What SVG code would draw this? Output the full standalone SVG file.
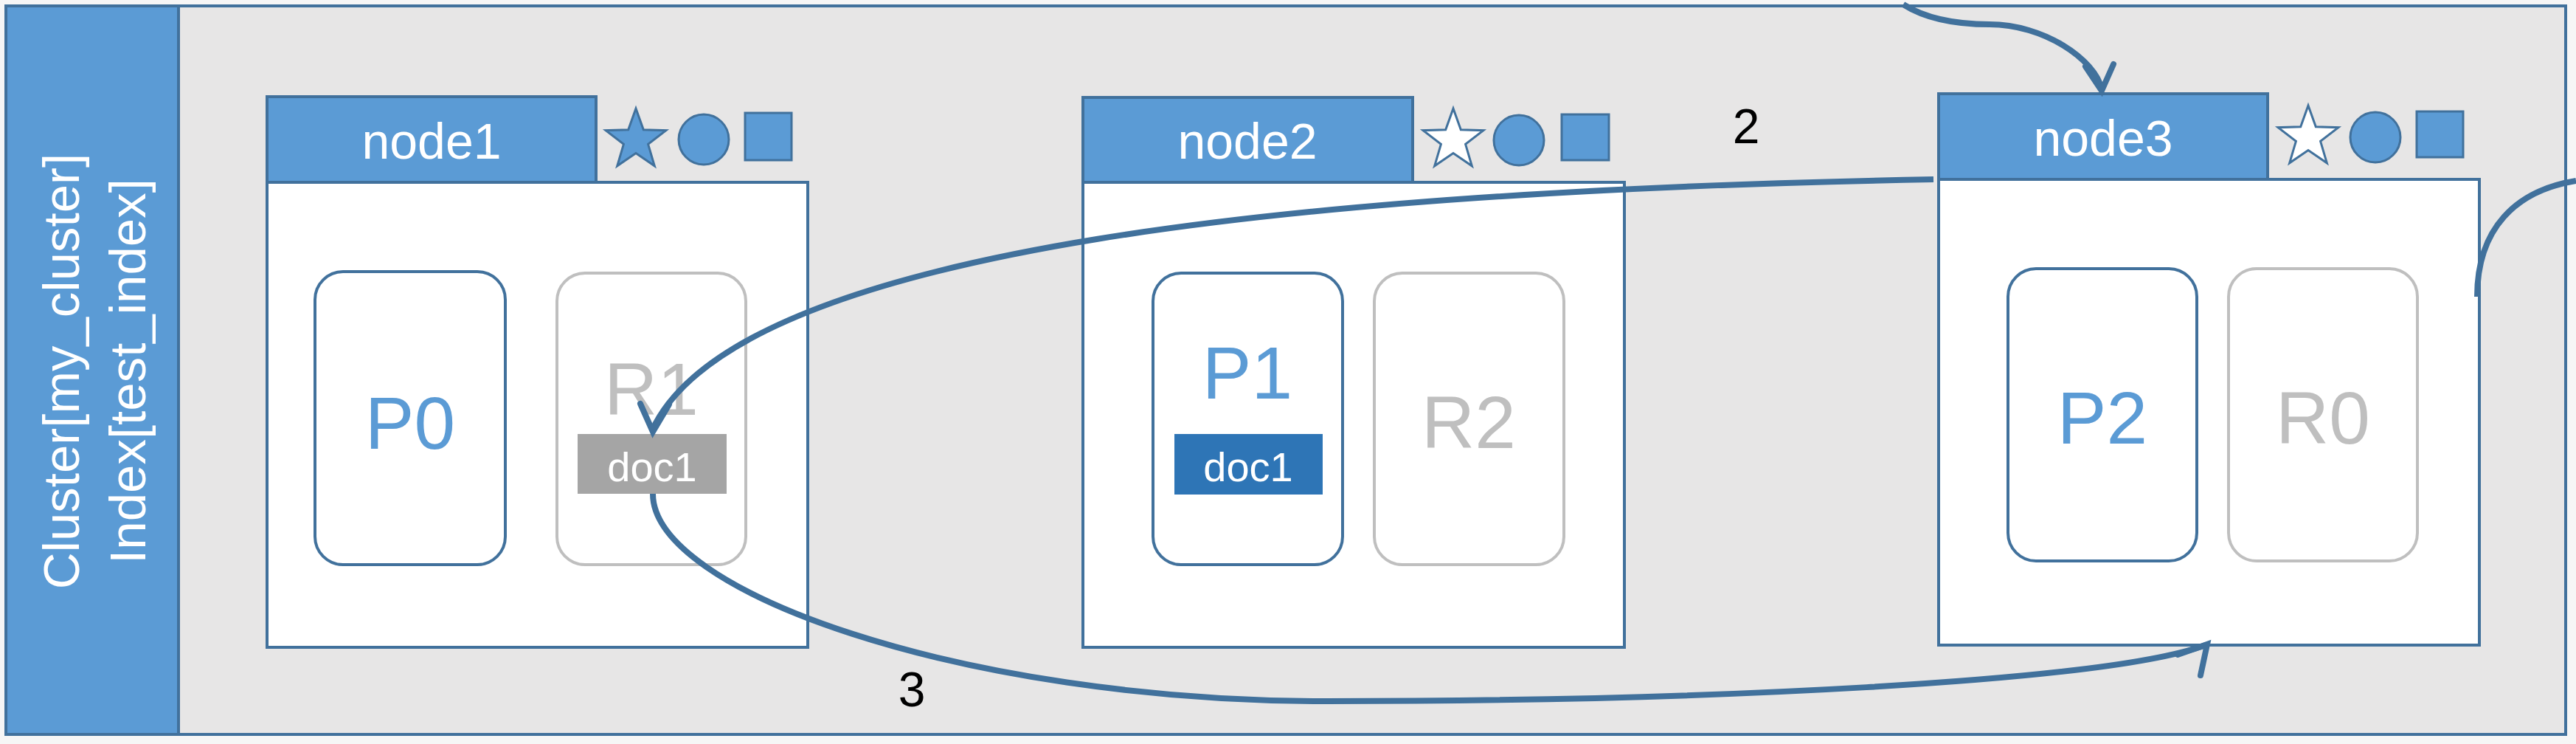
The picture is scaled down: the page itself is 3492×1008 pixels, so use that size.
<svg xmlns="http://www.w3.org/2000/svg" xmlns:xlink="http://www.w3.org/1999/xlink" width="3492" height="1008" viewBox="0 0 3492 1008">
<style>
.frame{fill:#E7E6E6;stroke:#41719C;stroke-width:4}
.bar{fill:#5B9BD5;stroke:#41719C;stroke-width:4}
.head{fill:#5B9BD5;stroke:#41719C;stroke-width:4}
.body{fill:#FFFFFF;stroke:#41719C;stroke-width:4}
.pri{fill:#FFFFFF;stroke:#41719C;stroke-width:4}
.rep{fill:#FFFFFF;stroke:#BFBFBF;stroke-width:4}
.ico{fill:#5B9BD5;stroke:#41719C;stroke-width:3}
.icow{fill:#FFFFFF;stroke:#41719C;stroke-width:3}
text{font-family:"Liberation Sans",Arial,sans-serif}
.wt{fill:#FFFFFF}
.hl{font-size:68px;text-anchor:middle;fill:#FFFFFF}
.pt{font-size:100px;text-anchor:middle;fill:#5B9BD5}
.rt{font-size:100px;text-anchor:middle;fill:#BFBFBF}
.dt{font-size:56px;text-anchor:middle;fill:#FFFFFF}
.ct{font-size:69px;text-anchor:middle;fill:#FFFFFF}
.num{font-size:66px;text-anchor:middle;fill:#000000}
.conn{fill:none;stroke:#41719C;stroke-width:8}
.head-v{fill:none;stroke:#41719C;stroke-width:8;stroke-linejoin:miter;stroke-linecap:round}
</style>
<defs>
<path id="star" d="M0,-43 L10.3,-14.2 L40.9,-13.3 L16.6,5.4 L25.3,34.8 L0,17.5 L-25.3,34.8 L-16.6,5.4 L-40.9,-13.3 L-10.3,-14.2 Z"/>
</defs>
<rect x="0" y="0" width="3492" height="1008" fill="#F6F6F6"/>
<g id="cluster">
<rect class="frame" x="8" y="8" width="3470" height="987"/>
<rect class="bar" x="8" y="8" width="234" height="987"/>
<text class="ct" transform="translate(107,503) rotate(-90)">Cluster[my_cluster]</text>
<text class="ct" transform="translate(197,503) rotate(-90)">Index[test_index]</text>
</g>
<g id="node1">
<rect class="body" x="362" y="247" width="733" height="630"/>
<rect class="head" x="362" y="131" width="446" height="116"/>
<text class="hl" x="585" y="215">node1</text>
<use xlink:href="#star" href="#star" class="ico" transform="translate(862,190)"/>
<circle class="ico" cx="954" cy="189" r="34"/>
<rect class="ico" x="1010" y="153" width="63" height="64"/>
<g id="P0">
<rect class="pri" x="427" y="368" width="258" height="397" rx="38" ry="38"/>
<text class="pt" x="556" y="608">P0</text>
</g>
<g id="R1">
<rect class="rep" x="755" y="370" width="256" height="395" rx="38" ry="38"/>
<text class="rt" x="883" y="562">R1</text>
<rect x="783" y="588" width="202" height="81" fill="#A5A5A5"/>
<text class="dt" x="884" y="652">doc1</text>
</g>
</g>
<g id="node2">
<rect class="body" x="1468" y="247" width="734" height="630"/>
<rect class="head" x="1468" y="132" width="447" height="115"/>
<text class="hl" x="1691" y="215">node2</text>
<use xlink:href="#star" href="#star" class="icow" transform="translate(1970,190)"/>
<circle class="ico" cx="2059" cy="190" r="34"/>
<rect class="ico" x="2117" y="155" width="64" height="62"/>
<g id="P1">
<rect class="pri" x="1563" y="370" width="257" height="395" rx="38" ry="38"/>
<text class="pt" x="1691" y="540">P1</text>
<rect x="1592" y="588" width="201" height="82" fill="#2E75B6"/>
<text class="dt" x="1692" y="652">doc1</text>
</g>
<g id="R2">
<rect class="rep" x="1863" y="370" width="257" height="395" rx="38" ry="38"/>
<text class="rt" x="1991" y="607">R2</text>
</g>
</g>
<g id="node3">
<rect class="body" x="2628" y="243" width="733" height="631"/>
<rect class="head" x="2628" y="127" width="446" height="116"/>
<text class="hl" x="2851" y="211">node3</text>
<use xlink:href="#star" href="#star" class="icow" transform="translate(3129,186)"/>
<circle class="ico" cx="3220" cy="186" r="34"/>
<rect class="ico" x="3276" y="151" width="63" height="62"/>
<g id="P2">
<rect class="pri" x="2722" y="364" width="256" height="396" rx="38" ry="38"/>
<text class="pt" x="2850" y="601">P2</text>
</g>
<g id="R0">
<rect class="rep" x="3021" y="364" width="256" height="396" rx="38" ry="38"/>
<text class="rt" x="3149" y="601">R0</text>
</g>
</g>
<g id="connectors">
<path class="conn" d="M 2580 6 C 2610 25, 2650 33, 2697 33 C 2770 33, 2840 80, 2849 121"/>
<path class="head-v" d="M 2827 90 L 2849 123 L 2865 87"/>
<path class="conn" d="M 2621 243 C 1800 258, 1000 330, 884 583"/>
<path class="head-v" d="M 868 547 L 885 585 L 907 548"/>
<path class="conn" d="M 885 669 C 885 800, 1300 950, 1800 950 C 2300 950, 2850 925, 2990 874"/>
<path class="head-v" d="M 2983 915 L 2992 873 L 2952 887"/>
<path class="conn" d="M 3358 402 C 3358 310, 3410 258, 3492 245"/>
<text class="num" x="2367" y="194">2</text>
<text class="num" x="1236" y="957">3</text>
</g>
</svg>
